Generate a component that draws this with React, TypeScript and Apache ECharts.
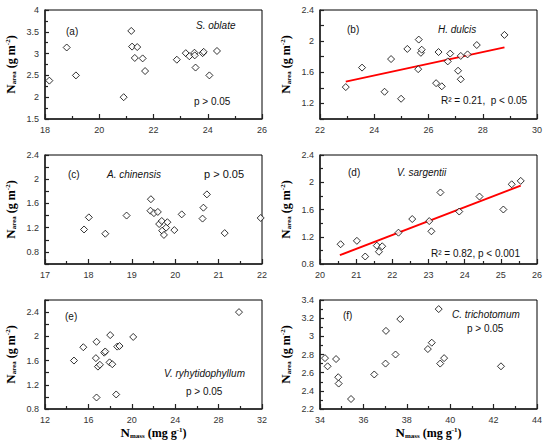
import { useEffect, useRef } from 'react'
import * as echarts from 'echarts'

// N_mass (x) vs N_area (y) for each species
const sOblate: [number, number][] = [
  [18.16, 2.38], [18.8, 3.14], [19.14, 2.5], [20.9, 2.0], [21.18, 3.52], [21.21, 3.16],
  [21.4, 3.15], [21.31, 2.9], [21.6, 2.89], [21.69, 2.6], [22.86, 2.86], [23.19, 3.01],
  [23.32, 2.94], [23.51, 3.02], [23.52, 2.96], [23.55, 2.68], [23.81, 3.01], [23.85, 3.04],
  [24.06, 2.5], [24.34, 3.06],
]
const hDulcis: [number, number][] = [
  [22.95, 1.41], [23.55, 1.66], [24.38, 1.35], [24.62, 1.77], [24.99, 1.26], [25.22, 1.9],
  [25.64, 2.02], [25.62, 1.64], [25.72, 1.85], [25.75, 1.89], [26.28, 1.46], [26.37, 1.86],
  [26.49, 1.42], [26.71, 1.74], [26.8, 1.84], [27.09, 1.62], [27.19, 1.51], [27.19, 1.81],
  [27.44, 1.83], [27.78, 1.95], [28.8, 2.08],
]
const aChinensis: [number, number][] = [
  [17.9, 1.17], [18.01, 1.37], [18.39, 1.1], [18.88, 1.4], [19.44, 1.67], [19.43, 1.48],
  [19.51, 1.44], [19.6, 1.46], [19.63, 1.26], [19.69, 1.31], [19.7, 1.15], [19.74, 1.08],
  [19.79, 1.2], [19.82, 1.29], [19.98, 1.16], [20.15, 1.42], [20.63, 1.35], [20.65, 1.53],
  [20.73, 1.75], [21.14, 1.11], [21.97, 1.36],
]
const vSargentii: [number, number][] = [
  [20.57, 1.09], [21.02, 1.14], [21.25, 0.91], [21.57, 1.07], [21.63, 0.98], [21.72, 1.06],
  [22.17, 1.26], [22.55, 1.46], [23.02, 1.43], [23.08, 1.28], [23.33, 1.85], [23.85, 1.57],
  [24.41, 1.79], [25.07, 1.6], [25.3, 1.97], [25.55, 2.02],
]
const vRyhytidophyllum: [number, number][] = [
  [14.67, 1.6], [15.53, 1.82], [16.75, 1.91], [16.69, 1.64], [16.88, 1.5], [17.06, 1.53],
  [16.75, 0.99], [17.46, 1.73], [17.55, 1.75], [18.01, 2.02], [17.95, 1.57], [18.2, 1.54],
  [18.66, 1.83], [18.87, 1.84], [18.56, 1.04], [20.13, 1.99], [29.88, 2.4],
]
const cTrichotomum: [number, number][] = [
  [34.23, 2.76], [34.35, 2.67], [34.74, 2.75], [34.84, 2.55], [34.86, 2.48], [35.43, 2.31],
  [36.5, 2.58], [37.02, 2.7], [37.04, 3.06], [37.48, 2.8], [37.7, 3.19], [38.97, 2.86],
  [39.15, 2.93], [39.47, 3.3], [39.54, 2.7], [39.72, 2.76], [42.34, 2.67],
]

// fitted regression lines (end points)
const hDulcisFit: [number, number][] = [[22.95, 1.48], [28.8, 1.92]]
const vSargentiiFit: [number, number][] = [[20.55, 0.93], [25.55, 1.95]]

const panels = [sOblate, hDulcis, aChinensis, vSargentii, vRyhytidophyllum, cTrichotomum]

// [min, max, interval]
const xRanges = [[18, 26, 2], [22, 30, 2], [17, 22, 1], [20, 26, 1], [12, 32, 4], [34, 44, 2]]
const yRanges = [[1.5, 4, 0.5], [1.0, 2.4, 0.2], [0.6, 2.4, 0.2], [0.8, 2.4, 0.4], [0.8, 2.6, 0.2], [2.2, 3.4, 0.2]]
const yLabelStep = [0.5, 0.4, 0.4, 0.4, 0.4, 0.2]
const yMinor = [true, false, false, true, false, true]

const SANS = 'Liberation Sans, Arial, sans-serif'
const SERIF = 'Liberation Serif, Times New Roman, serif'

const gridPos = [
  { left: 45, top: 10 }, { left: 320, top: 10 },
  { left: 45, top: 155 }, { left: 320, top: 155 },
  { left: 45, top: 300 }, { left: 320, top: 300 },
]

const titleRich = {
  n: { fontFamily: SERIF, fontWeight: 'bold', fontSize: 13, color: '#000' },
  s: { fontFamily: SERIF, fontWeight: 'bold', fontSize: 7, color: '#000', verticalAlign: 'bottom', padding: [4, 0, 0, 0] },
  m: { fontFamily: SERIF, fontWeight: 'bold', fontSize: 12, color: '#000' },
  p: { fontFamily: SERIF, fontWeight: 'bold', fontSize: 7, color: '#000', verticalAlign: 'top', padding: [0, 0, 5, 0] },
}

const fmt = (step: number) => (v: number) => {
  const r = v / step
  if (Math.abs(r - Math.round(r)) > 1e-6) return ''
  return String(Number(v.toFixed(2)))
}

type Note = { x: number; y: number; text: string; italic?: boolean; size?: number }
const notes: Note[] = [
  { x: 66, y: 31, text: '(a)' },
  { x: 196, y: 25, text: 'S. oblate', italic: true },
  { x: 194, y: 101, text: 'p > 0.05' },
  { x: 347, y: 29, text: '(b)' },
  { x: 438, y: 29, text: 'H. dulcis', italic: true },
  { x: 441, y: 100, text: 'R² = 0.21,  p < 0.05' },
  { x: 68, y: 174, text: '(c)' },
  { x: 107, y: 174, text: 'A. chinensis', italic: true },
  { x: 204, y: 174, text: 'p > 0.05', size: 11 },
  { x: 348, y: 172, text: '(d)' },
  { x: 397, y: 172, text: 'V. sargentii', italic: true },
  { x: 431, y: 253, text: 'R² = 0.82, p < 0.001' },
  { x: 65, y: 316, text: '(e)' },
  { x: 164, y: 373, text: 'V. ryhytidophyllum', italic: true },
  { x: 186, y: 391, text: 'p > 0.05' },
  { x: 343, y: 315, text: '(f)' },
  { x: 452, y: 314, text: 'C. trichotomum', italic: true },
  { x: 467, y: 328, text: 'p > 0.05' },
]

export default function App() {
  const chartRef = useRef<HTMLDivElement>(null)

  useEffect(() => {
    if (!chartRef.current) return
    const chart = echarts.init(chartRef.current, undefined, { renderer: 'svg' })

    const grid = gridPos.map(g => ({
      ...g,
      width: 217,
      height: 109,
      show: true,
      borderColor: '#000',
      borderWidth: 1,
      backgroundColor: 'transparent',
    }))

    const xAxis = xRanges.map(([min, max, interval], i) => ({
      type: 'value',
      gridIndex: i,
      min,
      max,
      interval,
      splitLine: { show: false },
      axisLine: { show: true, onZero: false, lineStyle: { color: '#222', width: 1.5 } },
      axisTick: { show: true, inside: true, length: 5, lineStyle: { color: '#222', width: 1.2 } },
      minorTick: { show: true, splitNumber: 2, length: 3, lineStyle: { color: '#222', width: 1.2 } },
      axisLabel: { color: '#333', fontFamily: SANS, fontSize: 9, margin: 6 },
      name: i >= 4 ? '{n|N}{s|mass}{m| (mg g}{p|-1}{m|)}' : '',
      nameLocation: 'middle',
      nameMoveOverlap: false,
      nameGap: 17,
      nameTextStyle: { rich: titleRich },
    }))

    const yAxis = yRanges.map(([min, max, interval], i) => ({
      type: 'value',
      gridIndex: i,
      min,
      max,
      interval,
      splitLine: { show: false },
      axisLine: { show: true, onZero: false, lineStyle: { color: '#222', width: 1.5 } },
      axisTick: { show: true, inside: true, length: 4, lineStyle: { color: '#222', width: 1.2 } },
      minorTick: { show: yMinor[i], splitNumber: 2, length: 3, lineStyle: { color: '#222', width: 1.2 } },
      axisLabel: { color: '#333', fontFamily: SANS, fontSize: 9, margin: 6, formatter: fmt(yLabelStep[i]) },
      name: '{n|N}{s|area}{m| (g m}{p|-2}{m|)}',
      nameLocation: 'middle',
      nameMoveOverlap: false,
      nameGap: 28,
      nameTextStyle: { rich: titleRich },
    }))

    const scatter = panels.map((d, i) => ({
      type: 'scatter',
      xAxisIndex: i,
      yAxisIndex: i,
      data: d,
      symbol: 'diamond',
      symbolSize: 7,
      itemStyle: { color: '#fff', borderColor: '#000', borderWidth: 1 },
      z: 3,
    }))

    const fits = [
      { idx: 1, data: hDulcisFit },
      { idx: 3, data: vSargentiiFit },
    ].map(f => ({
      type: 'line',
      xAxisIndex: f.idx,
      yAxisIndex: f.idx,
      data: f.data,
      symbol: 'none',
      lineStyle: { color: '#ff0000', width: 2 },
      z: 2,
    }))

    chart.setOption({
      animation: false,
      grid,
      xAxis,
      yAxis,
      series: [...fits, ...scatter],
      graphic: notes.map(n => ({
        type: 'text',
        x: n.x,
        y: n.y,
        z: 10,
        style: {
          text: n.text,
          fontFamily: SANS,
          fontSize: n.size ?? 10,
          fontStyle: n.italic ? 'italic' : 'normal',
          fill: '#111',
          verticalAlign: 'middle',
          align: 'left',
        },
      })),
    })

    return () => {
      chart.dispose()
    }
  }, [])

  return (
    <div
      ref={chartRef}
      style={{ position: 'absolute', left: 0, top: 0, width: 550, height: 446, background: '#fff' }}
    />
  )
}
